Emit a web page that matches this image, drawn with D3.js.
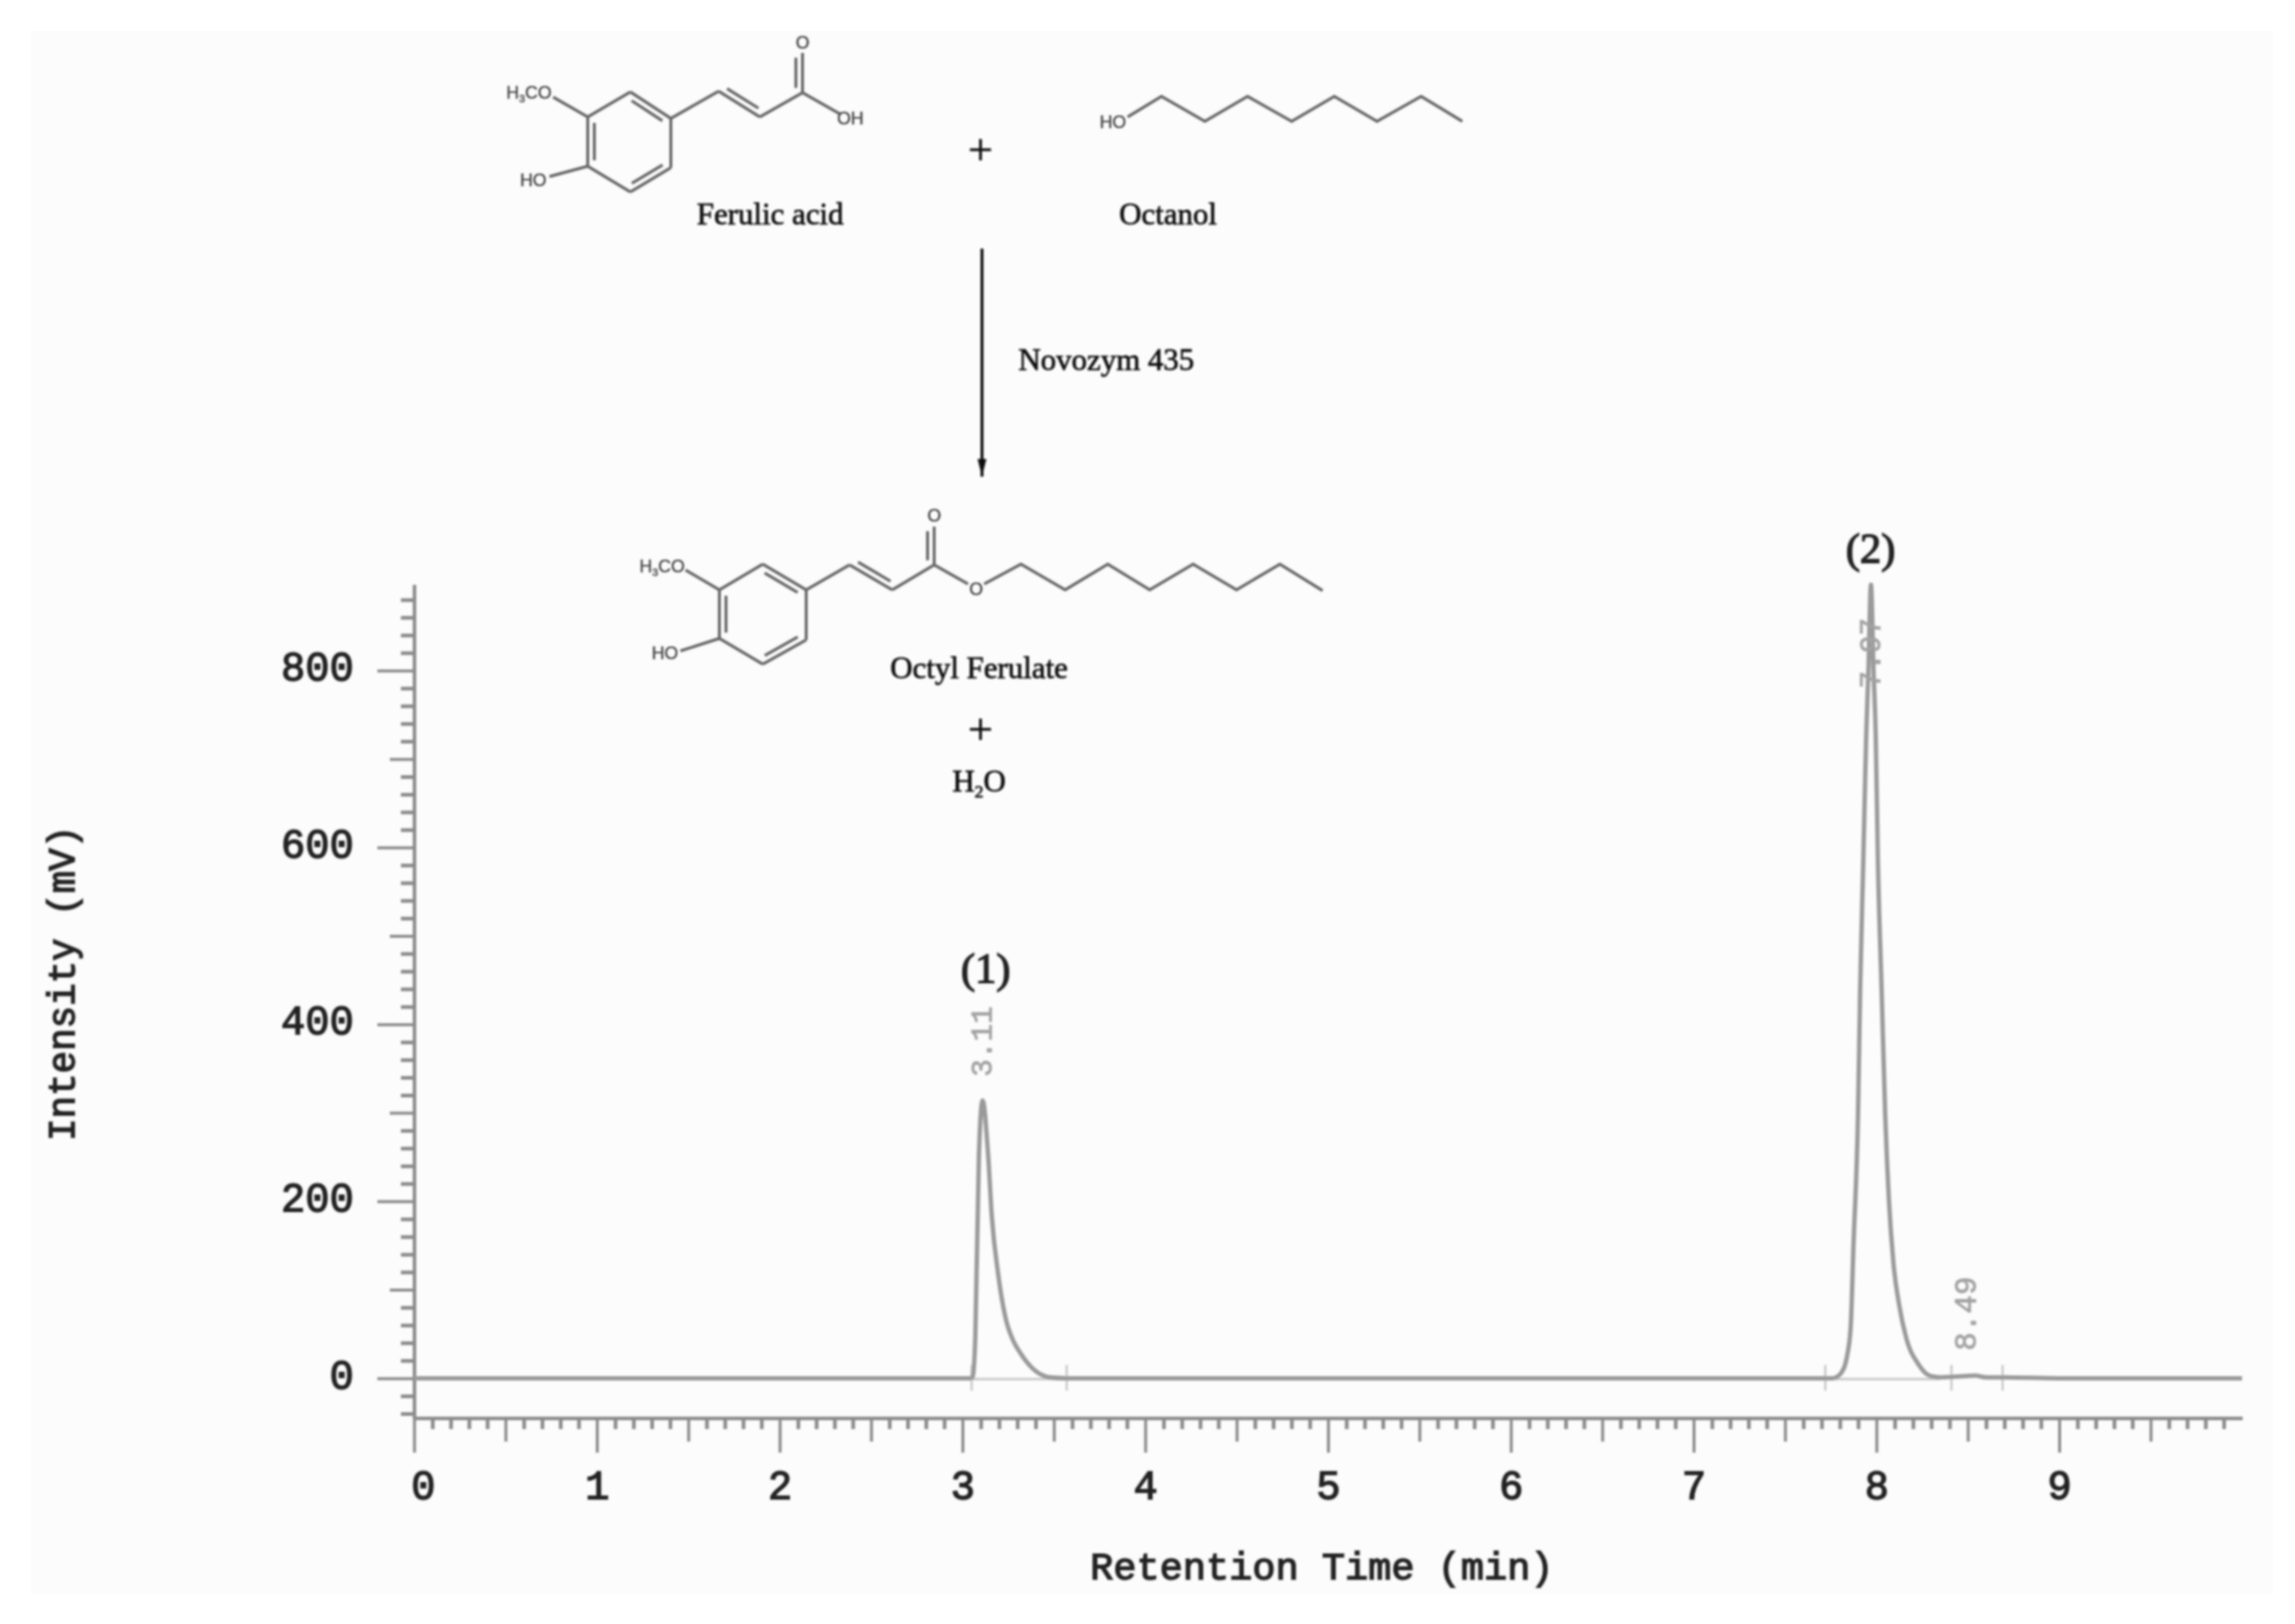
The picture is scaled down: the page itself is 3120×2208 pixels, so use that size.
<!DOCTYPE html>
<html>
<head>
<meta charset="utf-8">
<script src="https://cdn.jsdelivr.net/npm/d3@7/dist/d3.min.js"></script>
<style>
html,body{margin:0;padding:0;background:#fff}
svg{display:block}
</style>
</head>
<body>
<svg id="chart" width="3120" height="2208"></svg>
<script>
// ---- chart data ----
const retentionTime = [0,1,2,3,3.05,3.056,3.07,3.09,3.11,3.14,3.16,3.197,3.243,3.27,3.318,3.384,3.48,3.57,4,5,6,7,7.7,7.767,7.807,7.839,7.859,7.875,7.899,7.911,7.928,7.944,7.956,7.97,7.984,7.996,8.008,8.028,8.048,8.068,8.093,8.125,8.165,8.229,8.29,8.346,8.45,8.54,8.6,8.7,9,10];
const intensity     = [0,0,0,0,0,   2,   46,  253, 314, 253, 184, 115,  62,  46,  28,   11,   1,   0,   0,0,0,0,0,  0,    6,    25,   58,   154,  297,  441,  584,  727,  800,  897, 800,  727,  584,  441,  297,  202,  130,  82,   44,   16,   3,   1,    2,   3,   1,  1,  0,0];
const integrationBaselines = [[3.05,3.57],[7.767,8.346]];
const integrationMarks = [3.05,3.57,7.72,8.41,8.69];
const peakLabels = ["3.11","7.97","8.49"];
const peakNames = ["(1)","(2)"];
const xMajor = [0,1,2,3,4,5,6,7,8,9];
const yMajor = [0,200,400,600,800];
const xTitle = "Retention Time (min)";
const yTitle = "Intensity (mV)";
const compoundNames = ["Ferulic acid","Octanol","Octyl Ferulate","Novozym 435"];

// ---- reaction scheme drawing ----
const ferulicSingle = [[[857,125],[799,159]],[[912,161],[912,228]],[[857,261],[799,226]],[[912,161],[977,124]],[[1033,159],[1091,126]],[[1091,126],[1142,155]],[[799,159],[752,132]],[[799,226],[747,240]]];
const ferulicDouble = [[[912,161],[857,125]],[[857,261],[912,228]],[[799,159],[799,226]],[[977,124],[1033,159]],[[1091,126],[1091,72]]];
const octanolChain = [[1533,159],[1579,131],[1638,165],[1696,131],[1756,165],[1814,131],[1872,165],[1932,131],[1988,165]];
const esterSingle = [[[1037,767],[978,802]],[[1096,802],[1096,870]],[[1037,903],[978,868]],[[1096,802],[1155,768]],[[1213,802],[1270,768]],[[1270,768],[1316,794]],[[978,802],[932,775]],[[978,868],[925,885]]];
const esterDouble = [[[1096,802],[1037,767]],[[1037,903],[1096,870]],[[978,802],[978,868]],[[1155,768],[1213,802]],[[1270,768],[1270,716]]];
const esterChain = [[1338,794],[1388,767],[1448,802],[1506,767],[1563,802],[1622,767],[1681,802],[1740,767],[1798,803]];

const svg = d3.select("#chart");
const defs = svg.append("defs");
defs.append("filter").attr("id","soft").attr("x","-2%").attr("y","-2%").attr("width","104%").attr("height","104%")
  .append("feGaussianBlur").attr("stdDeviation",1.5);
defs.append("marker").attr("id","head").attr("viewBox","0 0 24 12").attr("refX",24).attr("refY",6)
  .attr("markerUnits","userSpaceOnUse").attr("markerWidth",24).attr("markerHeight",12).attr("orient","auto")
  .append("path").attr("d","M0,0L24,6L0,12Z").attr("fill","#111");

svg.append("rect").attr("width",3120).attr("height",2208).attr("fill","#fff");
svg.append("rect").attr("x",42).attr("y",42).attr("width",3048).attr("height",2126).attr("fill","#fcfcfc");

const g = svg.append("g").attr("filter","url(#soft)");

const x = d3.scaleLinear().domain([0,10]).range([563,3048]);
const y = d3.scaleLinear().domain([-45,897]).range([1928,795]);

const axisColor = "#8a8a8a", labelColor = "#222", mono = "'Liberation Mono', monospace", serif = "'Liberation Serif', serif", sans = "'Liberation Sans', sans-serif";

function styleAxis(a, w){
  a.selectAll("line").attr("stroke",axisColor).attr("stroke-width",w);
  a.select(".domain").attr("stroke",axisColor).attr("stroke-width",4);
  a.selectAll("text").attr("font-family",mono).attr("font-size",55).attr("fill",labelColor).attr("stroke",labelColor).attr("stroke-width",1.8);
}

// x axis
const xMinor = d3.range(0,100).map(i=>i/10).filter(v=>(Math.round(v*10))%5!==0);
const xMid = d3.range(0,10).map(v=>v+0.5);
const xa = g.append("g").attr("transform",`translate(0,${y(-45)})`);
xa.append("g").call(d3.axisBottom(x).tickValues(xMinor).tickSize(15).tickSizeOuter(0).tickFormat("")).call(styleAxis,5);
xa.append("g").call(d3.axisBottom(x).tickValues(xMid).tickSize(32).tickSizeOuter(0).tickFormat("")).call(styleAxis,4);
xa.append("g").call(d3.axisBottom(x).tickValues(xMajor).tickSize(47).tickSizeOuter(0).tickPadding(24).tickFormat(d3.format("d"))).call(styleAxis,4)
  .selectAll("text").attr("dx",d=>d===0?12:0);

// y axis
const yMinor = d3.range(-40,900,20).filter(v=>v%100!==0);
const yMid = [100,300,500,700];
const ya = g.append("g").attr("transform",`translate(${x(0)},0)`);
ya.append("g").call(d3.axisLeft(y).tickValues(yMinor).tickSize(18).tickSizeOuter(0).tickFormat("")).call(styleAxis,5);
ya.append("g").call(d3.axisLeft(y).tickValues(yMid).tickSize(33).tickSizeOuter(0).tickFormat("")).call(styleAxis,4);
ya.append("g").call(d3.axisLeft(y).tickValues(yMajor).tickSize(50).tickSizeOuter(0).tickPadding(32).tickFormat(d3.format("d"))).call(styleAxis,4)
  .selectAll("text").attr("dy","0.24em");

// integration marks and baselines
g.selectAll(".ib").data(integrationBaselines).join("line").attr("class","ib")
  .attr("x1",d=>x(d[0])).attr("x2",d=>x(d[1])).attr("y1",y(-1)).attr("y2",y(-1)).attr("stroke","#c4c4c4").attr("stroke-width",3);
g.selectAll(".im").data(integrationMarks).join("line").attr("class","im")
  .attr("x1",d=>x(d)).attr("x2",d=>x(d)).attr("y1",y(15)).attr("y2",y(-14)).attr("stroke","#c8c8c8").attr("stroke-width",3);

// signal
const points = retentionTime.map((t,i)=>[t,intensity[i]]);
g.append("path").datum(points.filter(p=>p[0]<=3.05)).attr("class","sig");
g.append("path").datum(points.filter(p=>p[0]>=3.48&&p[0]<=7.767)).attr("class","sig");
g.append("path").datum(points.filter(p=>p[0]>=8.346)).attr("class","sig");
g.append("path").datum(points.filter(p=>p[0]>=3.05&&p[0]<=3.57)).attr("class","sig pk");
g.append("path").datum(points.filter(p=>p[0]>=7.767&&p[0]<=8.346)).attr("class","sig pk");
const lineGen = d3.line().x(d=>x(d[0])).y(d=>y(d[1])).curve(d3.curveMonotoneX);
g.selectAll(".sig").attr("d",lineGen).attr("fill","none").attr("stroke","#9a9a9a").attr("stroke-width",6).attr("stroke-linejoin","round");

// peak retention labels
const peakLabelPos = [[3.11,1416,1335,40],[7.97,888,2543,40],[8.49,1786,2672,42]];
g.selectAll(".pl").data(peakLabels).join("text").attr("class","pl")
  .attr("transform",(d,i)=>`translate(${peakLabelPos[i][2]},${peakLabelPos[i][1]}) rotate(-90)`)
  .attr("text-anchor","middle").attr("dy","0.33em").attr("font-family",mono)
  .attr("font-size",(d,i)=>peakLabelPos[i][3]).attr("fill","#a2a2a2").attr("stroke","#a2a2a2").attr("stroke-width",1).text(d=>d);

// peak names
const peakNamePos = [[1340,1317],[2543,746]];
g.selectAll(".pn").data(peakNames).join("text").attr("class","pn")
  .attr("x",(d,i)=>peakNamePos[i][0]).attr("y",(d,i)=>peakNamePos[i][1]).attr("dy","0.32em")
  .attr("text-anchor","middle").attr("font-family",serif).attr("font-size",58).attr("fill","#222")
  .attr("stroke","#222").attr("stroke-width",1.8).text(d=>d);

// axis titles
g.append("text").attr("x",1797).attr("y",2131).attr("dy","0.3em").attr("text-anchor","middle")
  .attr("font-family",mono).attr("font-size",52.5).attr("fill",labelColor).attr("stroke",labelColor).attr("stroke-width",1.8).text(xTitle);
g.append("text").attr("transform","translate(86,1337) rotate(-90)").attr("dy","0.3em").attr("text-anchor","middle")
  .attr("font-family",mono).attr("font-size",51).attr("fill",labelColor).attr("stroke",labelColor).attr("stroke-width",1.8).text(yTitle);

// reaction scheme
const bondColor = "#666";
const scheme = g.append("g").attr("fill","none").attr("stroke",bondColor).attr("stroke-width",4);
function bonds(list){
  scheme.append("g").selectAll("line").data(list).join("line")
    .attr("x1",d=>d[0][0]).attr("y1",d=>d[0][1]).attr("x2",d=>d[1][0]).attr("y2",d=>d[1][1]);
}
function doubles(list){
  bonds(list);
  // second stroke of each double bond, drawn parallel to the first
  bonds(list.map(([a,b])=>{
    const dx=b[0]-a[0],dy=b[1]-a[1],L=Math.hypot(dx,dy),ox=dy/L*9,oy=-dx/L*9,s=0.12;
    return [[a[0]+dx*s+ox,a[1]+dy*s+oy],[b[0]-dx*s+ox,b[1]-dy*s+oy]];
  }));
}
function chain(pts){ scheme.append("path").attr("d",d3.line()(pts)); }
bonds(ferulicSingle); doubles(ferulicDouble); chain(octanolChain);
bonds(esterSingle); doubles(esterDouble); chain(esterChain);

// atoms
const atomLabels = [["O",1091,57],["OH",1156,160],["HO",725,244],["HO",1513,165],["O",1270,700],["O",1327,800],["HO",904,887]];
g.selectAll(".atom").data(atomLabels).join("text").attr("class","atom")
  .attr("x",d=>d[1]).attr("y",d=>d[2]).attr("dy","0.36em").attr("text-anchor","middle")
  .attr("font-family",sans).attr("font-size",24).attr("fill","#444").attr("stroke","#444").attr("stroke-width",0.5).text(d=>d[0]);
[[719,125],[900,769]].forEach(p=>{
  const t=g.append("text").attr("x",p[0]).attr("y",p[1]).attr("dy","0.36em").attr("text-anchor","middle")
    .attr("font-family",sans).attr("font-size",24).attr("fill","#444").attr("stroke","#444").attr("stroke-width",0.5);
  t.append("tspan").text("H");
  t.append("tspan").attr("font-size",15).attr("dy",5).text("3");
  t.append("tspan").attr("dy",-5).text("CO");
});

// names and reaction signs
const namePos = [[1047,292],[1588,292],[1331,909],[1504,490]];
g.selectAll(".cn").data(compoundNames).join("text").attr("class","cn")
  .attr("x",(d,i)=>namePos[i][0]).attr("y",(d,i)=>namePos[i][1]).attr("dy","0.32em").attr("text-anchor","middle")
  .attr("font-family",serif).attr("font-size",42).attr("fill","#111").attr("stroke","#111").attr("stroke-width",0.9).text(d=>d);
[[1333,203],[1333,991]].forEach(p=>{
  g.append("text").attr("x",p[0]).attr("y",p[1]).attr("dy","0.33em").attr("text-anchor","middle")
   .attr("font-family",serif).attr("font-size",60).attr("fill","#111").attr("stroke","#111").attr("stroke-width",0.8).text("+");
});
const water=g.append("text").attr("x",1331).attr("y",1063).attr("dy","0.32em").attr("text-anchor","middle")
  .attr("font-family",serif).attr("font-size",42).attr("fill","#111").attr("stroke","#111").attr("stroke-width",0.9);
water.append("tspan").text("H");
water.append("tspan").attr("font-size",24).attr("dy",8).text("2");
water.append("tspan").attr("dy",-8).text("O");

g.append("line").attr("x1",1335).attr("y1",338).attr("x2",1335).attr("y2",648)
  .attr("stroke","#111").attr("stroke-width",4).attr("marker-end","url(#head)");
</script>
</body>
</html>
